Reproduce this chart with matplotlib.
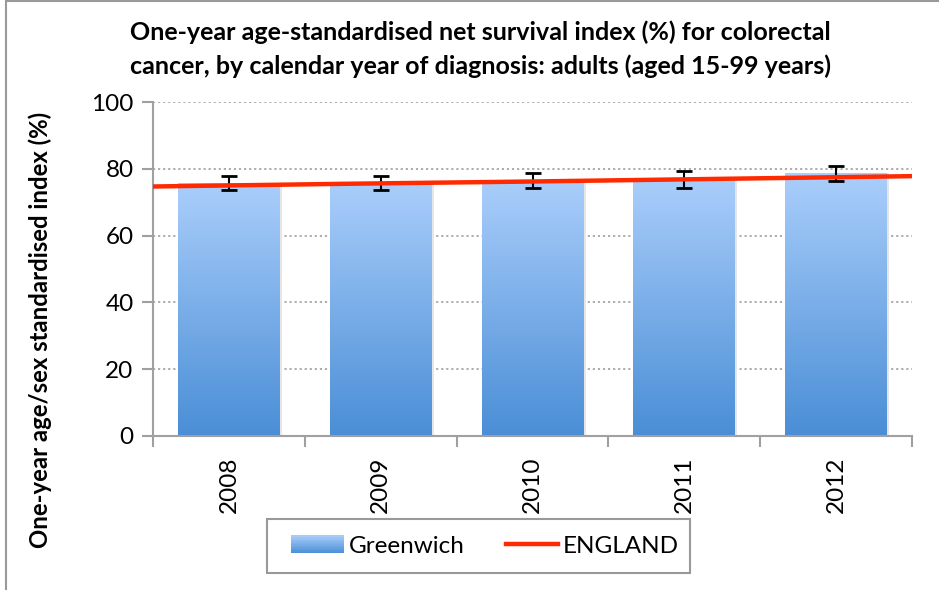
import numpy as np
import matplotlib
matplotlib.use("Agg")
import matplotlib.pyplot as plt
from matplotlib.patches import Rectangle
from matplotlib.lines import Line2D
from matplotlib.legend_handler import HandlerBase

years = ["2008", "2009", "2010", "2011", "2012"]
greenwich = [75.7, 75.9, 76.6, 77.3, 78.7]
ci_low = [73.6, 73.8, 74.4, 74.4, 76.2]
ci_high = [77.7, 77.7, 78.6, 79.3, 80.9]
england = [74.7, 75.5, 76.2, 77.0, 77.8]

FONT = "Lato"
plt.rcParams['font.family'] = [FONT, 'DejaVu Sans']

W, H = 939, 590
fig = plt.figure(figsize=(W / 100, H / 100), dpi=100)

# outer chart border
fig.patches.append(Rectangle((6 / W, -0.01), 1.05, (H - 1) / H + 0.01, transform=fig.transFigure,
                             fill=False, edgecolor="#999999", linewidth=1.5))

ax = fig.add_axes([153 / W, (H - 436) / H, (912 - 153) / W, (436 - 102) / H])
n = len(years)
x = np.arange(n)
ax.set_xlim(-0.5, n - 0.5)
ax.set_ylim(0, 100)

# gradient bars
top_c = np.array([170, 206, 251]) / 255
bot_c = np.array([74, 142, 214]) / 255
grad = np.linspace(0, 1, 256)[:, None]
img = top_c[None, None, :] * (1 - grad[:, :, None]) + bot_c[None, None, :] * grad[:, :, None]
bw = 0.67
for i, v in enumerate(greenwich):
    ax.add_patch(Rectangle((i - bw / 2 + 0.015, 0), bw, v, facecolor="#e6e6e6", edgecolor="none", zorder=1.5))
    rect = Rectangle((i - bw / 2, 0), bw, v, facecolor="none", edgecolor="none", zorder=2)
    ax.add_patch(rect)
    im = ax.imshow(img, extent=(i - bw / 2, i + bw / 2, 0, v), aspect="auto", zorder=2, origin="upper")
    im.set_clip_path(rect)

# error bars
yerr = [np.array(greenwich) - np.array(ci_low), np.array(ci_high) - np.array(greenwich)]
ax.errorbar(x, greenwich, yerr=yerr, fmt="none", ecolor="black", elinewidth=1.5,
            capsize=6, capthick=2, zorder=4)

# England line spanning whole plot width
ex = np.linspace(-0.5, n - 0.5, len(england))
ax.plot(ex, england, color="#FF2A00", linewidth=3.2, zorder=5, solid_capstyle="butt")

# grid
ax.set_yticks(np.arange(0, 101, 20))
for yv in range(20, 101, 20):
    ax.axhline(yv, color="#a6a6a6", linestyle=(0, (1.2, 1.6)), linewidth=1.3, zorder=0.5)

for s in ["top", "right"]:
    ax.spines[s].set_visible(False)
for s in ["left", "bottom"]:
    ax.spines[s].set_color("#a0a0a0")
    ax.spines[s].set_linewidth(1.5)

FS = 17.5
ax.set_xticks(np.arange(-0.5, n, 1.0))
ax.set_xticklabels([])
ax.set_xticks(x, minor=True)
ax.set_xticklabels(years, minor=True, rotation=90, fontsize=FS)
ax.tick_params(axis="x", which="major", length=8, width=1.5, color="#a0a0a0", direction="out")
ax.tick_params(axis="x", which="minor", length=0, pad=15)
ax.tick_params(axis="y", length=8, width=1.5, color="#a0a0a0", labelsize=FS, pad=6)

fig.text(40 / W, 1 - 330 / H, "One-year age/sex standardised index (%)", rotation=90,
         fontsize=17.2, fontweight="bold", ha="center", va="center")

fig.text(480 / W, 1 - 32 / H, "One-year age-standardised net survival index (%) for colorectal",
         fontsize=18, fontweight="bold", ha="center", va="center")
fig.text(480 / W, 1 - 66 / H, "cancer, by calendar year of diagnosis: adults (aged 15-99 years)",
         fontsize=18, fontweight="bold", ha="center", va="center")


class GradHandler(HandlerBase):
    def create_artists(self, legend, orig_handle, xdescent, ydescent, width, height, fontsize, trans):
        artists = []
        k = 12
        for j in range(k):
            t = (j + 0.5) / k
            c = top_c * t + bot_c * (1 - t)
            r = Rectangle((-xdescent, -ydescent + height * j / k), width, height / k + 0.3,
                          facecolor=c, edgecolor="none", transform=trans)
            artists.append(r)
        return artists


# legend frame
fig.patches.append(Rectangle((267 / W, 1 - 573 / H), (690 - 267) / W, (573 - 519) / H,
                             transform=fig.transFigure, facecolor="white",
                             edgecolor="#999999", linewidth=1.5, zorder=3))

bar_handle = Rectangle((0, 0), 1, 1)
line_handle = Line2D([0], [0], color="#FF2A00", linewidth=3.2)
leg = fig.legend([bar_handle, line_handle], ["Greenwich", "ENGLAND"],
                 handler_map={Rectangle: GradHandler()},
                 loc="center", bbox_to_anchor=(485 / W, 1 - 546 / H), ncol=2,
                 fontsize=17.5, frameon=False,
                 handlelength=2.15, handleheight=0.75, columnspacing=1.7, handletextpad=0.2,
                 borderpad=0.3, borderaxespad=0)
leg.set_zorder(4)

fig.savefig("out.png", dpi=100)
